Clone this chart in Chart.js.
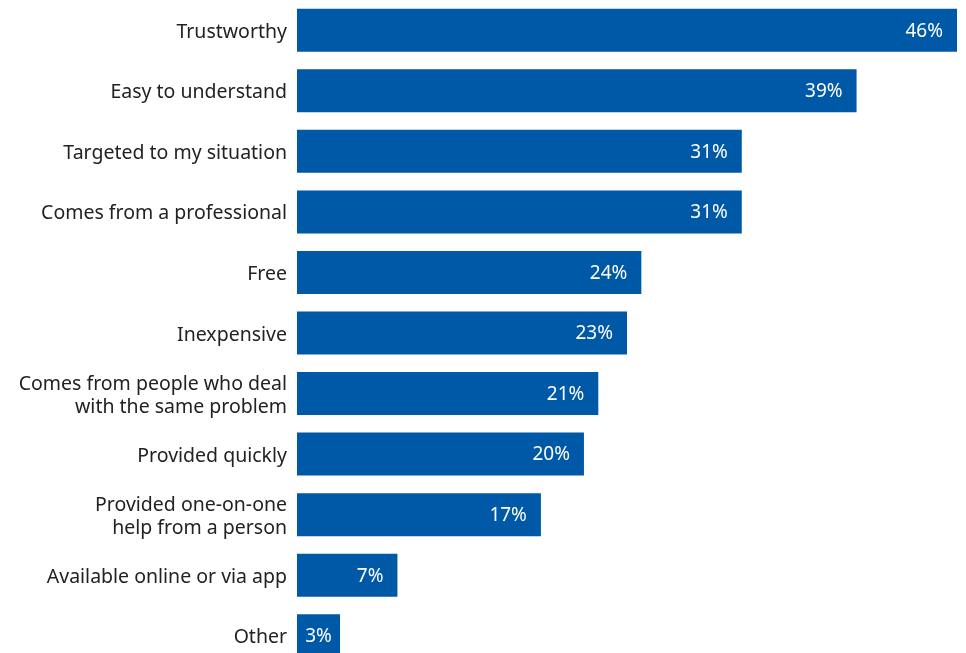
<!DOCTYPE html>
<html>
<head>
<meta charset="utf-8">
<script src="https://cdn.jsdelivr.net/npm/chart.js@4"></script>
<style>
  html, body { margin: 0; padding: 0; background: #fff; overflow: hidden; }
  #wrap { width: 966px; height: 666px; position: relative; }
</style>
</head>
<body>
<div id="wrap"><canvas id="reasons"></canvas></div>
<script>
var categories = [
    'Trustworthy',
    'Easy to understand',
    'Targeted to my situation',
    'Comes from a professional',
    'Free',
    'Inexpensive',
    ['Comes from people who deal', 'with the same problem'],
    'Provided quickly',
    ['Provided one-on-one', 'help from a person'],
    'Available online or via app',
    'Other'
];
var shares = [46, 39, 31, 31, 24, 23, 21, 20, 17, 7, 3];

// category names on the left and value labels inside the bar ends
var barLabels = {
    id: 'barLabels',
    afterDatasetsDraw: function(chart) {
        var ctx = chart.ctx;
        var meta = chart.getDatasetMeta(0);
        var yScale = chart.scales.y;
        ctx.save();
        ctx.textBaseline = 'middle';

        ctx.font = '19.5px "Noto Sans"';
        ctx.fillStyle = '#222222';
        ctx.textAlign = 'right';
        categories.forEach(function(name, i) {
            var lines = Array.isArray(name) ? name : [name];
            var yc = yScale.getPixelForTick(i) + 2;
            var lh = 23;
            lines.forEach(function(line, j) {
                var y = yc + (j - (lines.length - 1) / 2) * lh;
                ctx.fillText(line, chart.chartArea.left - 10, y);
            });
        });

        ctx.font = '19px "Noto Sans"';
        ctx.fillStyle = '#ffffff';
        ctx.textAlign = 'left';
        meta.data.forEach(function(bar, i) {
            var txt = shares[i] + '%';
            var w = ctx.measureText(txt).width;
            var len = bar.x - bar.base;
            var x;
            if (len < w + 28) {
                x = bar.base + (len - w) / 2;
            } else {
                x = bar.x - 14 - w;
            }
            ctx.fillText(txt, x, bar.y + 1);
        });
        ctx.restore();
    }
};

var ctx = document.getElementById('reasons');

var barGraph = new Chart(ctx, {
    type: 'bar',
    data: {
        labels: categories,
        datasets: [{
            data: shares,
            backgroundColor: '#0059A6',
            barPercentage: 0.71,
            categoryPercentage: 1
        }]
    },
    plugins: [barLabels],
    options: {
        indexAxis: 'y',
        responsive: true,
        maintainAspectRatio: false,
        animation: false,
        layout: { padding: { top: 0, right: 9, bottom: 0, left: 0 } },
        plugins: {
            legend: { display: false },
            tooltip: { enabled: false }
        },
        scales: {
            x: {
                display: false,
                min: 0,
                max: 46
            },
            y: {
                grid: { display: false, drawTicks: false },
                border: { display: false },
                ticks: { display: false },
                afterFit: function(scale) {
                    scale.width = 297;
                    scale.paddingTop = 0;
                    scale.paddingBottom = 0;
                }
            }
        }
    }
});
</script>
</body>
</html>
